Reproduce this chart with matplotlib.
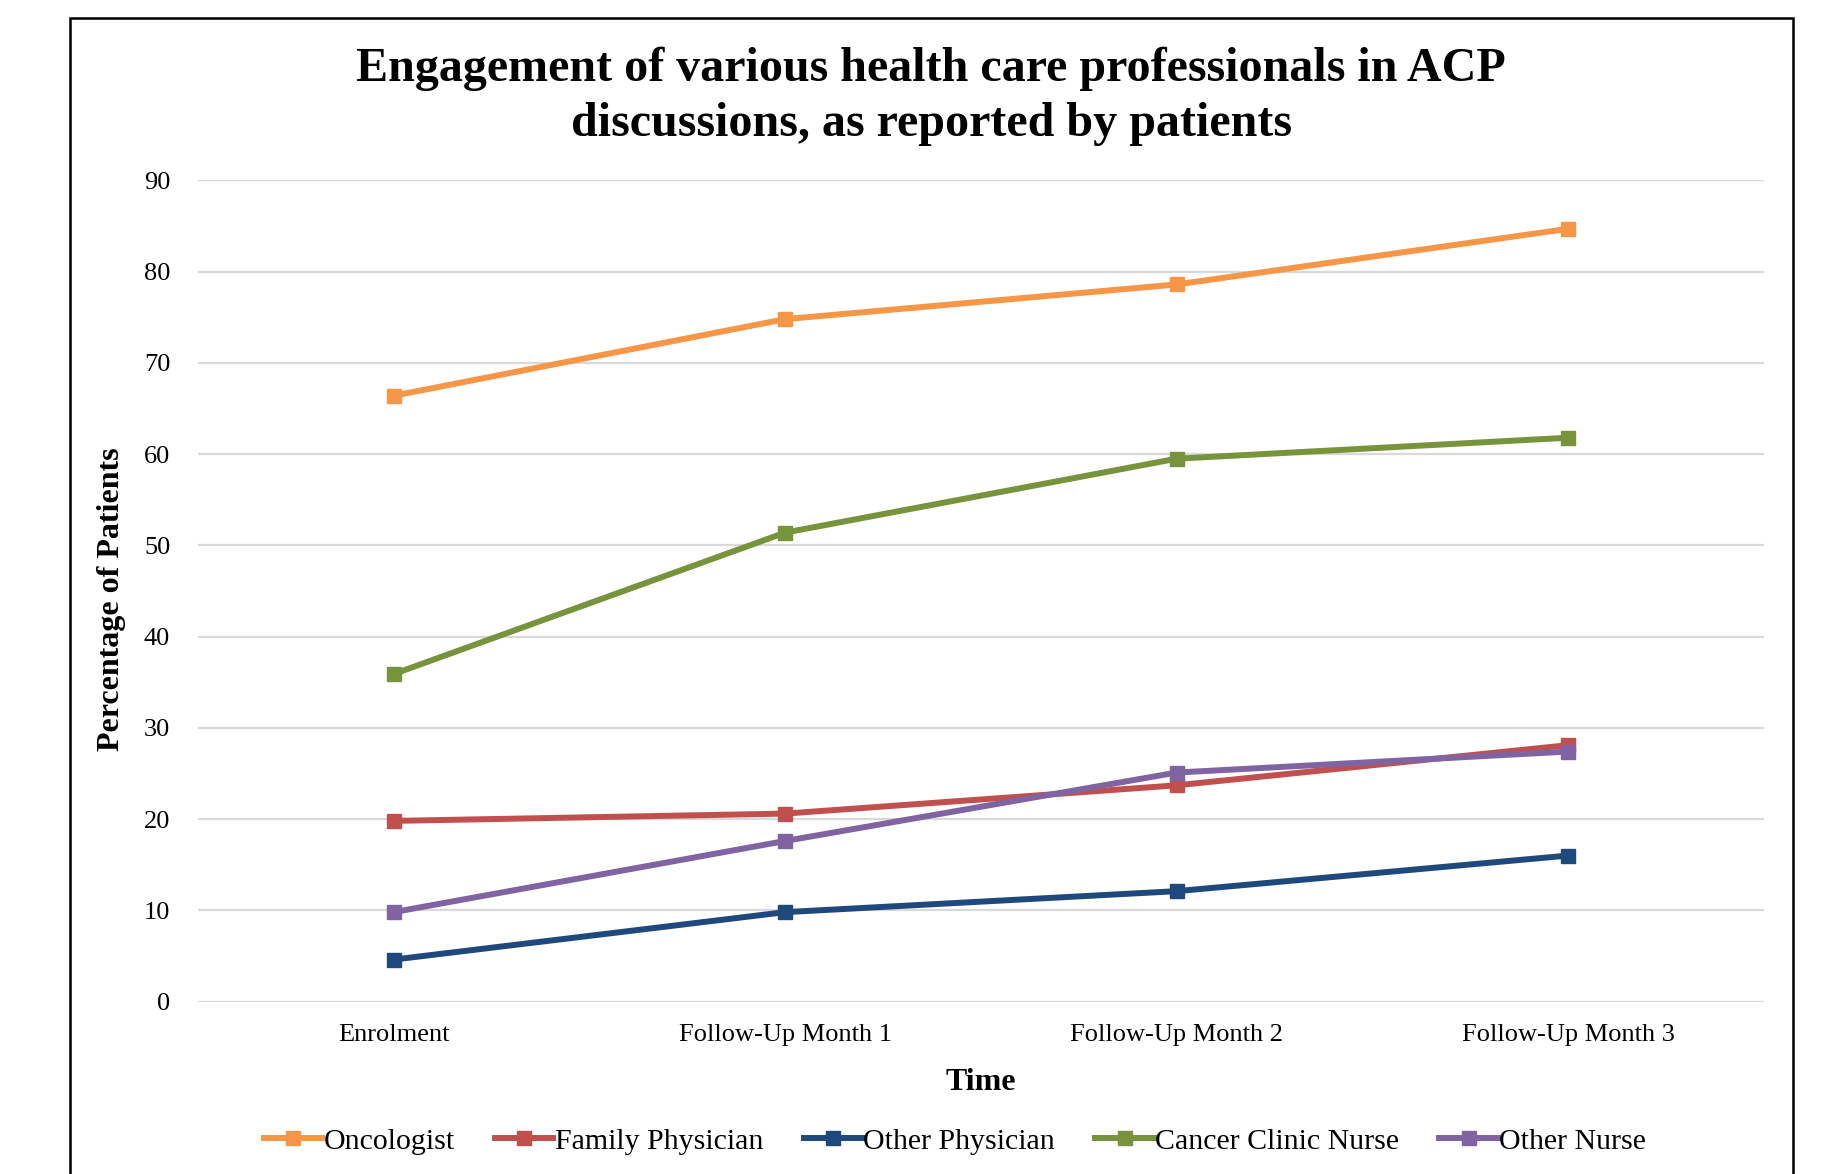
import matplotlib
matplotlib.use("Agg")
import matplotlib.pyplot as plt
from matplotlib.patches import Rectangle

categories = ["Enrolment", "Follow-Up Month 1", "Follow-Up Month 2", "Follow-Up Month 3"]
oncologist = [66.4, 74.8, 78.6, 84.7]
family_physician = [19.8, 20.6, 23.7, 28.1]
other_physician = [4.6, 9.8, 12.1, 16.0]
cancer_clinic_nurse = [35.9, 51.4, 59.5, 61.8]
other_nurse = [9.8, 17.6, 25.1, 27.4]
y_ticks = [0, 10, 20, 30, 40, 50, 60, 70, 80, 90]

series = [
    ("Oncologist", oncologist, "#F79646"),
    ("Family Physician", family_physician, "#C0504D"),
    ("Other Physician", other_physician, "#1F497D"),
    ("Cancer Clinic Nurse", cancer_clinic_nurse, "#77933C"),
    ("Other Nurse", other_nurse, "#8064A2"),
]

plt.rcParams['font.family'] = ['Liberation Serif', 'DejaVu Serif']

fig = plt.figure(figsize=(18.26, 11.74), dpi=100)
ax = fig.add_axes([0.1084, 0.1469, 0.966 - 0.1084, 0.8463 - 0.1469])

x = list(range(len(categories)))
for name, vals, col in series:
    ax.plot(x, vals, color=col, lw=4.3, marker='s', markersize=10.5, label=name,
            solid_joinstyle='round', zorder=3)

ax.set_xlim(-0.5, len(categories) - 0.5)
ax.set_ylim(0, 90)
ax.set_yticks(y_ticks)
ax.set_xticks(x)
ax.set_xticklabels(categories)
ax.tick_params(axis='both', length=0, labelsize=19)
ax.tick_params(axis='x', pad=16)
ax.tick_params(axis='y', pad=20)
ax.grid(axis='y', color='#d9d9d9', lw=1.6, zorder=0)
ax.set_axisbelow(True)
for s in ax.spines.values():
    s.set_visible(False)

ax.set_xlabel("Time", fontsize=23, fontweight='bold', labelpad=16)
ax.set_ylabel("Percentage of Patients", fontsize=23, fontweight='bold', labelpad=12)
ax.yaxis.set_label_coords(-0.046, 0.49)

fig.text(0.510, 0.9410, "Engagement of various health care professionals in ACP",
         ha='center', va='center', fontsize=34.6, fontweight='bold')
fig.text(0.510, 0.8940, "discussions, as reported by patients",
         ha='center', va='center', fontsize=34.6, fontweight='bold')

fig.legend(loc='center', bbox_to_anchor=(0.523, 0.028), ncol=5, frameon=False,
           fontsize=21.5, handlelength=1.95, columnspacing=1.35, handletextpad=0.05)

fig.patches.append(Rectangle((0.0383, -0.05), 0.982 - 0.0383, 0.985 + 0.05,
                             transform=fig.transFigure, fill=False, ec='black', lw=1.8))

fig.savefig("out.png", dpi=100)
